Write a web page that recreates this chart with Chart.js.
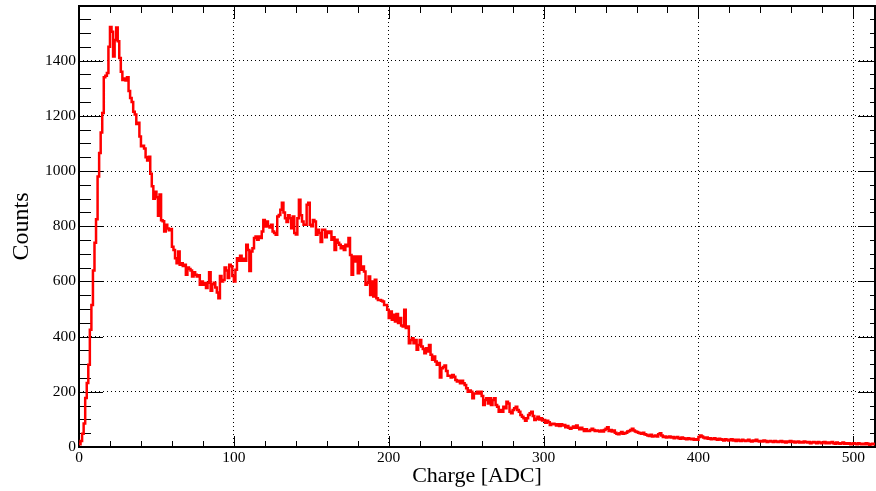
<!DOCTYPE html>
<html>
<head>
<meta charset="utf-8">
<script src="https://cdn.jsdelivr.net/npm/chart.js@4.4.1/dist/chart.umd.min.js"></script>
<style>
  html, body { margin: 0; padding: 0; background: #fff; }
  canvas { display: block; }
</style>
</head>
<body>
<canvas id="histo" width="876" height="491"></canvas>
<script>
// bin contents (1 ADC wide bins)
const counts000 = [
  10, 22, 48, 85, 178, 232, 298, 425, 515, 640,
  740, 825, 980, 1065, 1140, 1210, 1340, 1345, 1355, 1450,
  1522, 1505, 1415, 1475, 1520, 1470, 1410, 1360, 1330, 1335,
  1328, 1340, 1290, 1265, 1250, 1215, 1205, 1170, 1175, 1125,
  1090, 1092, 1082, 1050, 1038, 1052, 990, 945, 900, 925,
  905, 838, 915, 822, 818, 781, 805, 792, 785, 790,
  726, 714, 684, 666, 708, 660, 666, 656, 660, 624,
  650, 645, 640, 618, 633, 624, 618, 622, 588, 600,
  588, 594, 576, 595, 633, 566, 590, 595, 578, 560,
  539, 620, 600, 605, 650, 640, 612, 660, 655, 620
];
const counts100 = [
  600, 642, 684, 675, 693, 675, 682, 675, 733, 714,
  638, 708, 720, 757, 763, 751, 763, 757, 781, 823,
  799, 817, 800, 795, 805, 781, 775, 769, 835, 841,
  860, 885, 850, 829, 815, 840, 829, 793, 835, 775,
  770, 829, 896, 840, 817, 805, 805, 878, 885, 805,
  800, 823, 817, 769, 787, 775, 743, 787, 787, 760,
  781, 775, 781, 751, 760, 714, 751, 740, 733, 720,
  727, 714, 733, 727, 757, 696, 624, 690, 672, 690,
  630, 690, 642, 654, 636, 588, 594, 618, 551, 600,
  545, 606, 539, 533, 533, 530, 527, 515, 515, 497
];
const counts200 = [
  467, 491, 461, 479, 455, 482, 449, 467, 440, 437,
  497, 431, 437, 376, 388, 394, 376, 388, 352, 370,
  388, 364, 355, 340, 358, 346, 370, 334, 316, 328,
  310, 298, 304, 252, 285, 290, 295, 275, 258, 258,
  252, 261, 255, 243, 237, 240, 231, 240, 231, 225,
  213, 200, 205, 200, 177, 194, 194, 200, 194, 200,
  185, 152, 170, 177, 158, 177, 152, 170, 177, 152,
  146, 128, 134, 128, 146, 140, 164, 158, 128, 122,
  134, 140, 146, 134, 128, 116, 110, 104, 95, 104,
  116, 122, 128, 112, 98, 102, 110, 100, 104, 96
];
const counts300 = [
  98, 88, 95, 90, 80, 84, 84, 82, 78, 82,
  76, 82, 78, 80, 72, 76, 70, 66, 70, 74,
  70, 78, 70, 64, 70, 64, 58, 64, 58, 58,
  62, 66, 62, 58, 60, 58, 56, 60, 56, 62,
  66, 72, 58, 62, 56, 60, 52, 48, 46, 50,
  54, 48, 50, 52, 56, 58, 62, 66, 60, 56,
  54, 52, 50, 48, 52, 46, 44, 42, 40, 44,
  38, 40, 42, 38, 46, 50, 42, 36, 38, 34,
  36, 38, 34, 36, 32, 34, 36, 32, 30, 34,
  32, 30, 28, 32, 30, 28, 30, 26, 28, 26
];
const counts400 = [
  36, 42, 38, 34, 32, 34, 30, 32, 28, 30,
  32, 28, 26, 30, 28, 26, 24, 28, 26, 24,
  26, 28, 24, 26, 22, 26, 24, 22, 26, 24,
  22, 24, 26, 22, 20, 24, 22, 26, 22, 20,
  22, 20, 24, 22, 18, 20, 22, 20, 18, 22,
  20, 18, 20, 22, 18, 20, 16, 20, 18, 22,
  18, 20, 16, 18, 20, 16, 18, 16, 20, 18,
  16, 18, 14, 16, 18, 16, 14, 18, 16, 14,
  16, 18, 14, 16, 14, 16, 18, 14, 12, 16,
  14, 12, 14, 16, 12, 14, 12, 14, 10, 12,
  14, 12, 10, 14, 12, 10, 12, 10, 14, 12,
  8, 10, 12, 10
];

const xTicks = [0, 100, 200, 300, 400, 500];
const yTicks = [0, 200, 400, 600, 800, 1000, 1200, 1400];
const xTitle = 'Charge [ADC]';
const yTitle = 'Counts';
const xMax = 514;
const yMax = 1598;

const counts = [].concat(counts000, counts100, counts200, counts300, counts400);

// histogram steps: each bin from its low edge to the next one
let points = counts.map((c, i) => ({x: i, y: c}));
points.push({x: counts.length, y: counts[counts.length - 1]});

const serif = 'Liberation Serif, Times New Roman, serif';

function noPad(s) {
  s.paddingTop = 0; s.paddingBottom = 0;
  s.paddingLeft = 0; s.paddingRight = 0;
}

// ROOT-like frame with inward ticks on all four sides
const rootFrame = {
  id: 'rootFrame',
  beforeDraw(chart) {
    const ctx = chart.ctx;
    ctx.save();
    ctx.fillStyle = '#fff';
    ctx.fillRect(0, 0, chart.width, chart.height);
    ctx.restore();
  },
  beforeDatasetsDraw(chart) {
    const {ctx, chartArea: a} = chart;
    const x = chart.scales.x, y = chart.scales.y;
    ctx.save();
    ctx.strokeStyle = '#000';
    ctx.lineWidth = 1;
    ctx.beginPath();
    for (let v = 0; v <= xMax; v += 20) {
      const px = Math.round(x.getPixelForValue(v)) + 0.5;
      const major = v % 100 == 0;
      ctx.moveTo(px, a.bottom); ctx.lineTo(px, a.bottom - (major ? 11 : 6));
      ctx.moveTo(px, a.top); ctx.lineTo(px, a.top + (major ? 13 : 7));
    }
    for (let v = 0; v <= yMax; v += 50) {
      const py = Math.round(y.getPixelForValue(v)) + 0.5;
      const major = v % 200 == 0;
      ctx.moveTo(a.left, py); ctx.lineTo(a.left + (major ? 24 : 12), py);
      ctx.moveTo(a.right, py); ctx.lineTo(a.right - (major ? 17 : 5), py);
    }
    ctx.stroke();
    ctx.lineWidth = 2;
    ctx.strokeRect(a.left, a.top, a.right - a.left, a.bottom - a.top);
    ctx.restore();
  }
};

new Chart(document.getElementById('histo'), {
  type: 'line',
  data: {
    datasets: [{
      data: points,
      borderColor: '#ff0000',
      borderWidth: 2.5,
      pointRadius: 0,
      stepped: true,
      fill: false,
    }]
  },
  options: {
    responsive: false,
    animation: false,
    devicePixelRatio: 1,
    layout: {padding: {top: 6, right: 1, left: 0, bottom: 0}},
    plugins: {legend: {display: false}, tooltip: {enabled: false}},
    scales: {
      x: {
        type: 'linear',
        min: 0,
        max: xMax,
        afterFit: (s) => { s.height = 44; noPad(s); },
        afterBuildTicks: (s) => { s.ticks = xTicks.map(v => ({value: v})); },
        ticks: {
          autoSkip: false,
          maxRotation: 0,
          padding: 2,
          color: '#000',
          font: {family: serif, size: 15.5},
          callback: (v) => String(v),
        },
        grid: {color: '#000', lineWidth: 1, drawTicks: false},
        border: {display: false, dash: [1, 3]},
        title: {
          display: true,
          text: xTitle,
          color: '#000',
          font: {family: serif, size: 22, lineHeight: 1},
          padding: {top: 0, bottom: 4},
        }
      },
      y: {
        type: 'linear',
        min: 0,
        max: yMax,
        afterFit: (s) => { s.width = 79; noPad(s); },
        afterBuildTicks: (s) => { s.ticks = yTicks.map(v => ({value: v})); },
        ticks: {
          autoSkip: false,
          padding: 3,
          color: '#000',
          font: {family: serif, size: 15.5},
          callback: (v) => String(v),
        },
        grid: {color: '#000', lineWidth: 1, drawTicks: false},
        border: {display: false, dash: [1, 3]},
        title: {
          display: true,
          text: yTitle,
          color: '#000',
          font: {family: serif, size: 24, lineHeight: 1},
          padding: {top: 10, bottom: 0},
        }
      }
    }
  },
  plugins: [rootFrame]
});
</script>
</body>
</html>
